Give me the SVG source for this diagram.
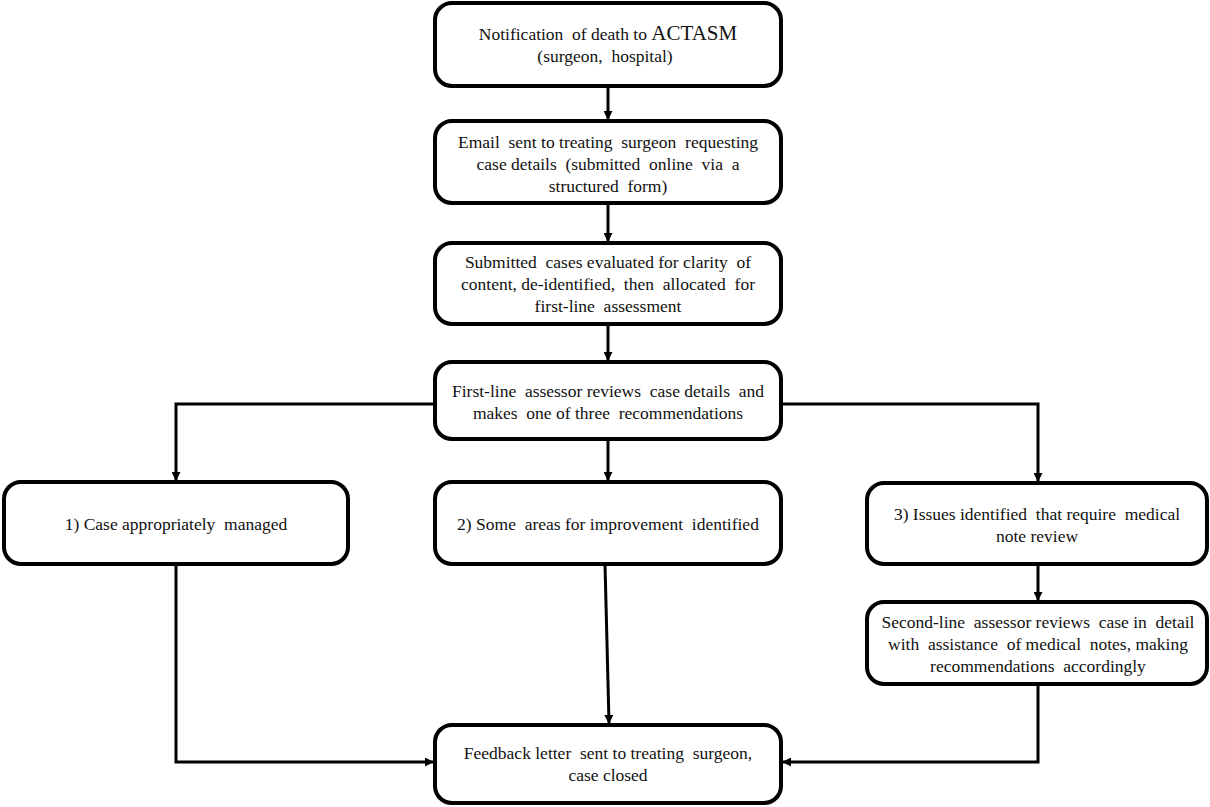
<svg xmlns="http://www.w3.org/2000/svg" width="1210" height="807" viewBox="0 0 1210 807">
<style>
.box{fill:#fff;stroke:#000;stroke-width:4}
.t{font-family:"Liberation Serif","Times New Roman",serif;font-size:17.5px;fill:#111;text-anchor:middle;white-space:pre}
.big{font-size:21px}
.c{fill:none;stroke:#000;stroke-width:3}
</style>
<defs>
<marker id="ah" markerWidth="9" markerHeight="9" refX="8" refY="4.5" orient="auto" markerUnits="userSpaceOnUse">
<path d="M0,0 L9,4.5 L0,9 Z" fill="#000"/>
</marker>
</defs>
<rect width="1210" height="807" fill="#fff"/>
<g id="connectors">
<path class="c" d="M608,86 V119" marker-end="url(#ah)"/>
<path class="c" d="M608,203 V241" marker-end="url(#ah)"/>
<path class="c" d="M608,324 V360" marker-end="url(#ah)"/>
<path class="c" d="M435,404 H176 V480" marker-end="url(#ah)"/>
<path class="c" d="M781,404 H1038 V481" marker-end="url(#ah)"/>
<path class="c" d="M608,439 V480" marker-end="url(#ah)"/>
<path class="c" d="M1038,564 V600" marker-end="url(#ah)"/>
<path class="c" d="M176,564 V762 H433" marker-end="url(#ah)"/>
<path class="c" d="M605,564 L609,723" marker-end="url(#ah)"/>
<path class="c" d="M1038,684 V762 H783" marker-end="url(#ah)"/>
</g>
<g id="n1">
<rect class="box" x="435" y="3" width="346" height="83" rx="17"/>
<text class="t" x="608" y="40">Notification  of death to <tspan class="big">ACTASM</tspan></text>
<text class="t" x="605" y="62">(surgeon,  hospital)</text>
</g>
<g id="n2">
<rect class="box" x="435" y="121" width="346" height="82" rx="17"/>
<text class="t" x="608" y="148">Email  sent to treating  surgeon  requesting</text>
<text class="t" x="608" y="170">case details  (submitted  online  via  a</text>
<text class="t" x="608" y="192">structured  form)</text>
</g>
<g id="n3">
<rect class="box" x="435" y="243" width="346" height="81" rx="17"/>
<text class="t" x="608" y="268">Submitted  cases evaluated for clarity  of</text>
<text class="t" x="608" y="290">content, de-identified,  then  allocated  for</text>
<text class="t" x="608" y="312">first-line  assessment</text>
</g>
<g id="n4">
<rect class="box" x="435" y="362" width="346" height="77" rx="17"/>
<text class="t" x="608" y="397">First-line  assessor reviews  case details  and</text>
<text class="t" x="608" y="419">makes  one of three  recommendations</text>
</g>
<g id="n5">
<rect class="box" x="4" y="482" width="344" height="82" rx="17"/>
<text class="t" x="176" y="530">1) Case appropriately  managed</text>
</g>
<g id="n6">
<rect class="box" x="435" y="482" width="346" height="82" rx="17"/>
<text class="t" x="608" y="530">2) Some  areas for improvement  identified</text>
</g>
<g id="n7">
<rect class="box" x="867" y="483" width="340" height="81" rx="17"/>
<text class="t" x="1037" y="520">3) Issues identified  that require  medical</text>
<text class="t" x="1037" y="542">note review</text>
</g>
<g id="n8">
<rect class="box" x="867" y="602" width="340" height="82" rx="17"/>
<text class="t" x="1038" y="628">Second-line  assessor reviews  case in  detail</text>
<text class="t" x="1038" y="650">with  assistance  of medical  notes, making</text>
<text class="t" x="1038" y="672">recommendations  accordingly</text>
</g>
<g id="n9">
<rect class="box" x="435" y="725" width="346" height="78" rx="17"/>
<text class="t" x="608" y="759">Feedback letter  sent to treating  surgeon,</text>
<text class="t" x="608" y="781">case closed</text>
</g>
</svg>
